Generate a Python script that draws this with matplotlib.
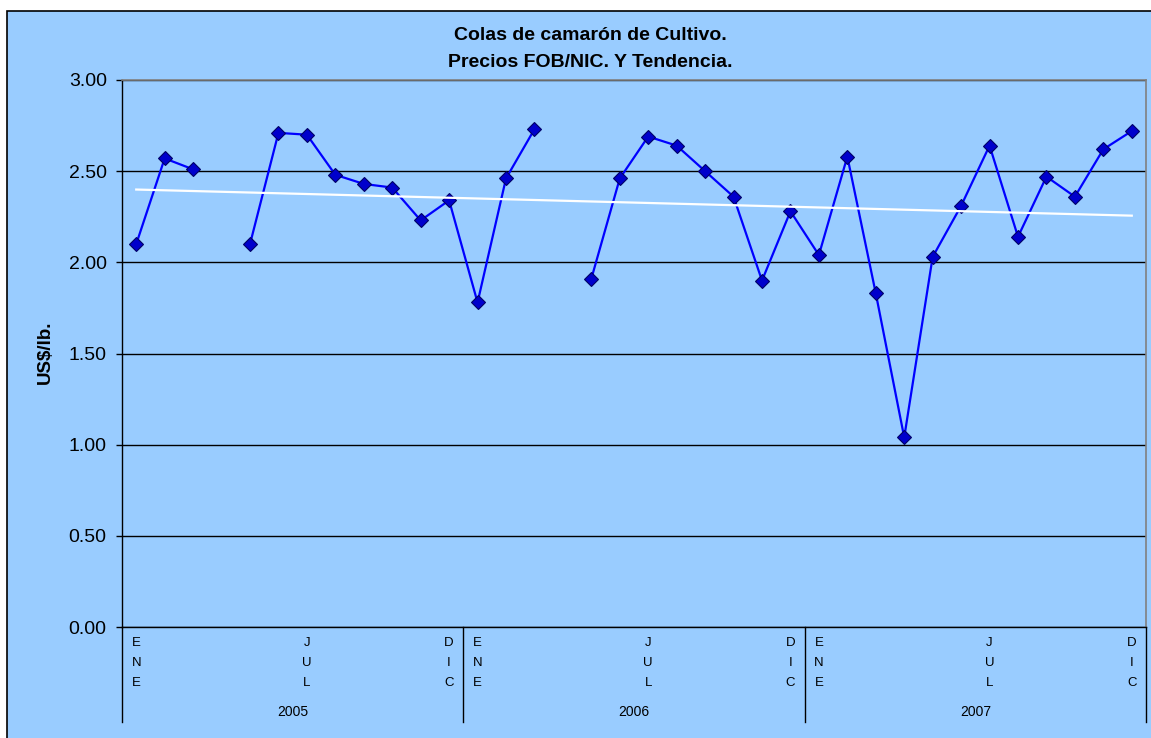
import numpy as np
import matplotlib
matplotlib.use('Agg')
import matplotlib.pyplot as plt
from matplotlib.patches import Rectangle

plt.rcParams['font.family'] = ['Liberation Sans', 'DejaVu Sans']

# ---------------- data ----------------
years = ['2005', '2006', '2007']
months = ['ENE', 'FEB', 'MAR', 'ABR', 'MAY', 'JUN', 'JUL', 'AGO', 'SEP', 'OCT', 'NOV', 'DIC']
shown_months = ['ENE', 'JUL', 'DIC']
prices_2005 = [2.10, 2.57, 2.51, np.nan, 2.10, 2.71, 2.70, 2.48, 2.43, 2.41, 2.23, 2.34]
prices_2006 = [1.78, 2.46, 2.73, np.nan, 1.91, 2.46, 2.69, 2.64, 2.50, 2.36, 1.90, 2.28]
prices_2007 = [2.04, 2.58, 1.83, 1.04, 2.03, 2.31, 2.64, 2.14, 2.47, 2.36, 2.62, 2.72]
yticks = [0.0, 0.5, 1.0, 1.5, 2.0, 2.5, 3.0]
title_lines = ['Colas de camarón de Cultivo.', 'Precios FOB/NIC. Y Tendencia.']
ylabel = 'US$/lb.'

# ---------------- figure ----------------
W, H = 1151, 738
BG = '#99CCFF'
fig = plt.figure(figsize=(W / 100, H / 100), dpi=100, facecolor='white')
fig.add_artist(Rectangle((7 / W, -0.1), 1.2, (1 - 11 / H) + 0.1,
                         transform=fig.transFigure, facecolor=BG,
                         edgecolor='black', lw=1.2, zorder=0))

ax_h = 547
ax = fig.add_axes([122 / W, 1 - 627 / H, 1024 / W, ax_h / H])
ax.set_facecolor(BG)

prices = np.array(prices_2005 + prices_2006 + prices_2007, dtype=float)
x = np.arange(len(prices))

ax.plot(x, prices, color='#0000FF', lw=1.6, marker='D', ms=7,
        mfc='#0000CC', mec='#000066', mew=0.8, zorder=3)

mask = ~np.isnan(prices)
coef = np.polyfit(x[mask], prices[mask], 1)
xt = np.array([x[0], x[-1]])
ax.plot(xt, np.polyval(coef, xt), color='white', lw=1.6, zorder=4)

ax.set_xlim(-0.5, len(prices) - 0.5)
ax.set_ylim(0, 3)
ax.set_yticks(yticks)
ax.set_yticklabels([f'{v:.2f}' for v in yticks], fontsize=14)
ax.yaxis.grid(True, color='black', lw=1)
ax.set_axisbelow(True)
ax.tick_params(axis='y', length=4.5, width=1, direction='out', pad=6.5, colors='black')
ax.set_xticks([])

for s in ['left', 'bottom']:
    ax.spines[s].set_color('black')
    ax.spines[s].set_linewidth(1)
for s in ['top', 'right']:
    ax.spines[s].set_color('#808080')
    ax.spines[s].set_linewidth(1.2)

trans = ax.get_xaxis_transform()
for yi, yr in enumerate(years):
    for m in shown_months:
        idx = yi * 12 + months.index(m)
        for k, ch in enumerate(m):
            ax.text(idx, -(16 + 20 * k) / ax_h, ch, transform=trans,
                    ha='center', va='center', fontsize=9.5, color='black')
    ax.text(yi * 12 + 5.5, -85 / ax_h, yr, transform=trans,
            ha='center', va='center', fontsize=10, color='black')

for b in range(len(years) + 1):
    xb = b * 12 - 0.5
    ax.plot([xb, xb], [0, -95 / ax_h], transform=trans, color='black',
            lw=1, clip_on=False)

fig.text(45 / W, 1 - 352 / H, ylabel, rotation=90, fontsize=13.5,
         weight='bold', ha='center', va='center')
fig.text(590 / W, 1 - 35.5 / H, title_lines[0], ha='center', va='center',
         fontsize=14, weight='bold')
fig.text(590 / W, 1 - 62.5 / H, title_lines[1], ha='center', va='center',
         fontsize=14, weight='bold')

fig.savefig('out.png', dpi=100, facecolor=fig.get_facecolor())
